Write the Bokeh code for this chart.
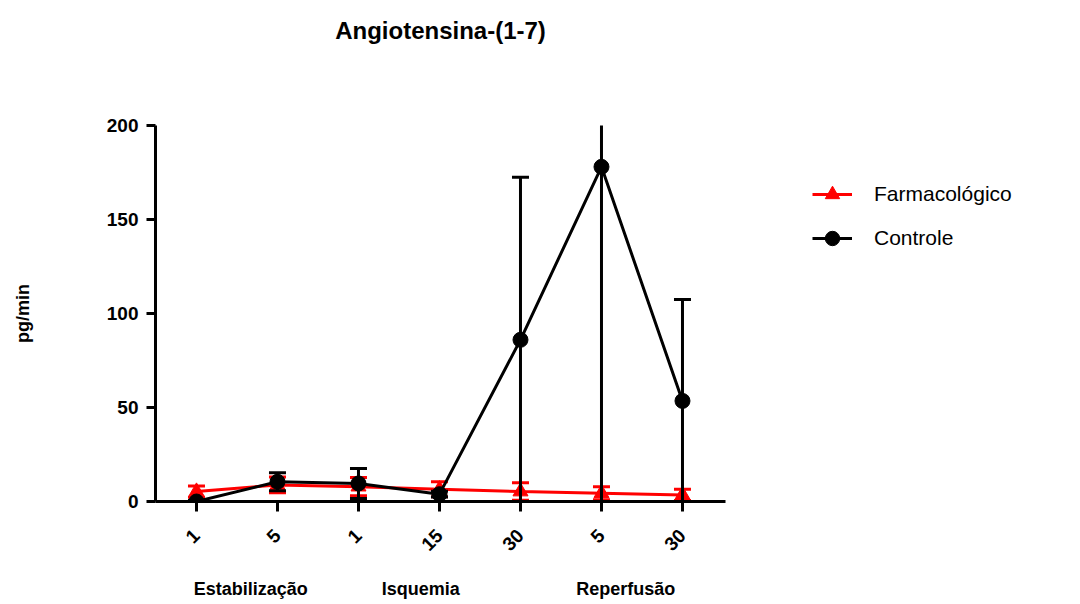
from bokeh.plotting import figure
from bokeh.models import (Range1d, LinearAxis, FixedTicker, ColumnDataSource,
                          Legend, LegendItem, Label)
from bokeh.embed import file_html
from bokeh.resources import INLINE

# Time points (minutes) within each experimental phase
tick_labels = ["1", "5", "1", "15", "30", "5", "30"]
phase_names = ["Estabilização", "Isquemia", "Reperfusão"]
phase_centers = [0.67, 2.77, 5.3]

# Angiotensina-(1-7) release, mean and SD (pg/min)
farm_mean = [5.3, 8.8, 7.9, 6.5, 5.3, 4.4, 3.5]
farm_sd = [3.0, 4.2, 4.9, 4.0, 4.7, 3.5, 3.0]
ctrl_mean = [0.0, 10.5, 9.6, 3.9, 86.0, 178.0, 53.5]
ctrl_sd = [0.5, 4.8, 8.0, 1.5, 86.5, 180.0, 54.0]

Y_MAX = 200
FONT = "Liberation Sans"
INK = "#000000"

x = list(range(len(tick_labels)))
X_LO, X_HI = -0.506, 6.53          # extent of the x axis line
X_VIEW_HI = X_LO + 925 / 81.0      # room on the right for the legend
Y_VIEW_HI = 501 / 1.88             # room above the axes for the title


def make_sources(mean, sd):
    hi = [m + s for m, s in zip(mean, sd)]
    lo = [m - s for m, s in zip(mean, sd)]
    bars = ColumnDataSource(dict(
        x=x, y=mean, lo=lo, hi=[min(h, Y_MAX) for h in hi]))
    caps_hi = ColumnDataSource(dict(
        x=[xi for xi, h in zip(x, hi) if h <= Y_MAX],
        y=[h for h in hi if h <= Y_MAX]))
    caps_lo = ColumnDataSource(dict(x=x, y=lo))
    return bars, caps_hi, caps_lo


p = figure(width=1080, height=604, title=None,
           output_backend="svg", toolbar_location=None,
           x_range=Range1d(X_LO, X_VIEW_HI), y_range=Range1d(0, Y_VIEW_HI),
           x_axis_type=None,
           min_border_left=155, min_border_right=0,
           min_border_top=0, min_border_bottom=103)

p.outline_line_color = None
p.xgrid.visible = False
p.ygrid.visible = False
p.background_fill_color = "white"
p.border_fill_color = "white"

# Title above the axes (frame center x = 285 px from its left edge)
p.add_layout(Label(x=285, y=471, x_units="screen", y_units="screen",
                   text="Angiotensina-(1-7)", text_align="center",
                   text_baseline="middle", text_font=FONT,
                   text_font_style="bold", text_font_size="24px",
                   text_color=INK))

# Y axis
yax = p.yaxis[0]
yax.bounds = (0, Y_MAX)
yax.ticker = FixedTicker(ticks=[0, 50, 100, 150, 200])
yax.major_label_text_font = FONT
yax.major_label_text_font_style = "bold"
yax.major_label_text_font_size = "19px"
yax.major_label_text_color = INK
yax.axis_line_width = 3
yax.major_tick_line_width = 3
yax.major_tick_out = 9
yax.major_tick_in = 0
yax.minor_tick_line_color = None
yax.major_label_standoff = 8

# Y axis title, centred on the 0-200 span of the axis
p.add_layout(Label(x=-61, y=188, x_units="screen", y_units="screen",
                   text="pg/min", angle=1.5707963, text_align="center",
                   text_baseline="middle", text_font=FONT,
                   text_font_style="bold", text_font_size="18px",
                   text_color=INK), "left")

# X axis with the time-point labels
xax = LinearAxis(ticker=FixedTicker(ticks=x), bounds=(X_LO, X_HI),
                 major_label_overrides={i: t for i, t in zip(x, tick_labels)})
xax.major_label_orientation = 0.785398
xax.major_label_text_font = FONT
xax.major_label_text_font_style = "bold"
xax.major_label_text_font_size = "19px"
xax.major_label_text_color = INK
xax.axis_line_width = 3
xax.major_tick_line_width = 3
xax.major_tick_out = 10
xax.major_tick_in = 0
xax.minor_tick_line_color = None
xax.major_label_standoff = 21
p.add_layout(xax, "below")

# Second row of x labels: the experimental phases
gax = LinearAxis(ticker=FixedTicker(ticks=phase_centers), bounds=(X_LO, X_HI),
                 major_label_overrides={c: n for c, n in zip(phase_centers, phase_names)})
gax.axis_line_color = None
gax.major_tick_line_color = None
gax.minor_tick_line_color = None
gax.major_tick_out = 0
gax.major_tick_in = 0
gax.major_label_standoff = 19
gax.major_label_text_font = FONT
gax.major_label_text_font_style = "bold"
gax.major_label_text_font_size = "18px"
gax.major_label_text_color = INK
p.add_layout(gax, "below")


def draw_series(mean, sd, color, marker):
    bars, caps_hi, caps_lo = make_sources(mean, sd)
    p.segment(x0="x", y0="lo", x1="x", y1="hi", source=bars,
              line_color=color, line_width=3)
    p.scatter(x="x", y="y", source=caps_hi, marker="dash", size=17,
              line_color=color, line_width=3)
    p.scatter(x="x", y="y", source=caps_lo, marker="dash", size=17,
              line_color=color, line_width=3)
    ln = p.line(x="x", y="y", source=bars, line_color=color, line_width=3)
    mk = p.scatter(x="x", y="y", source=bars, marker=marker, size=15,
                   fill_color=color, line_color=color)
    return ln, mk


farm_line, farm_mk = draw_series(farm_mean, farm_sd, "#ff0000", "triangle")
ctrl_line, ctrl_mk = draw_series(ctrl_mean, ctrl_sd, "#000000", "circle")

legend = Legend(items=[
    LegendItem(label="Farmacológico", renderers=[farm_line, farm_mk]),
    LegendItem(label="Controle", renderers=[ctrl_line, ctrl_mk]),
], location=(657, 245))
legend.border_line_color = None
legend.background_fill_alpha = 0
legend.label_text_font = FONT
legend.label_text_font_size = "21px"
legend.label_text_color = INK
legend.glyph_width = 40
legend.glyph_height = 36
legend.label_height = 36
legend.spacing = 8
legend.label_standoff = 22
legend.margin = 0
legend.padding = 0
p.add_layout(legend, "center")

open("out.html", "w").write(file_html(p, INLINE))
